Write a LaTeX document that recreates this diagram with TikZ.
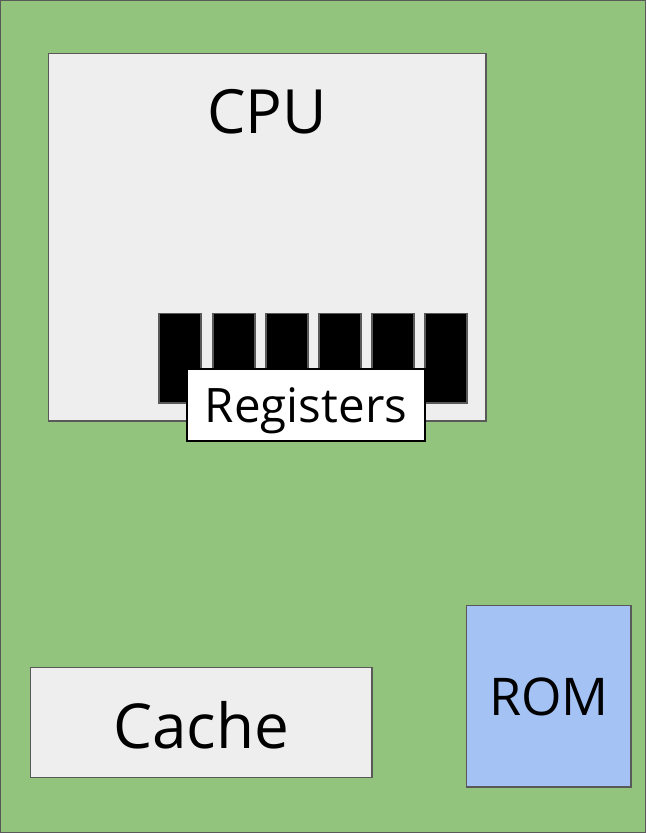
\documentclass[tikz,border=0pt]{standalone}
\usepackage{fontspec}
\setmainfont{Open Sans}
\definecolor{board}{HTML}{93C47D}
\definecolor{chip}{HTML}{EEEEEE}
\definecolor{romblue}{HTML}{A4C2F4}
\definecolor{edge}{HTML}{595959}
\tikzset{
  box/.style={draw=edge, line width=1.3pt},
  reg/.style={draw=edge, fill=black, line width=1.3pt},
  lbl/.style={anchor=base, inner sep=0pt, text=black},
}
\begin{document}
\begin{tikzpicture}[x=1pt,y=-1pt]
\useasboundingbox (0,0) rectangle (646,833);
\path[box, fill=board] (0.6,0.6) rectangle (645.4,832.4);
\path[box, fill=chip] (48.5,53.5) rectangle (486,421);
\node[lbl, font=\fontsize{61}{61}\selectfont] (cpu) at (267,133) {CPU};
\foreach \i/\x in {1/159,2/213,3/266,4/319,5/372,6/425} {
  \path[reg] (\x,313.5) rectangle ++(42,89.5) coordinate (r\i);
}
\path[draw=black, fill=white, line width=1.3pt] (187,369) rectangle (425,441);
\node[lbl, font=\fontsize{47.5}{47.5}\selectfont] (regs) at (306,422) {Registers};
\path[box, fill=chip] (30.5,667.5) rectangle (372,777.5);
\node[lbl, font=\fontsize{62}{62}\selectfont] (cache) at (201,748) {Cache};
\path[box, fill=romblue] (466.5,605.5) rectangle (631,787);
\node[lbl, font=\fontsize{52}{52}\selectfont] (rom) at (549,715) {ROM};
\end{tikzpicture}
\end{document}
